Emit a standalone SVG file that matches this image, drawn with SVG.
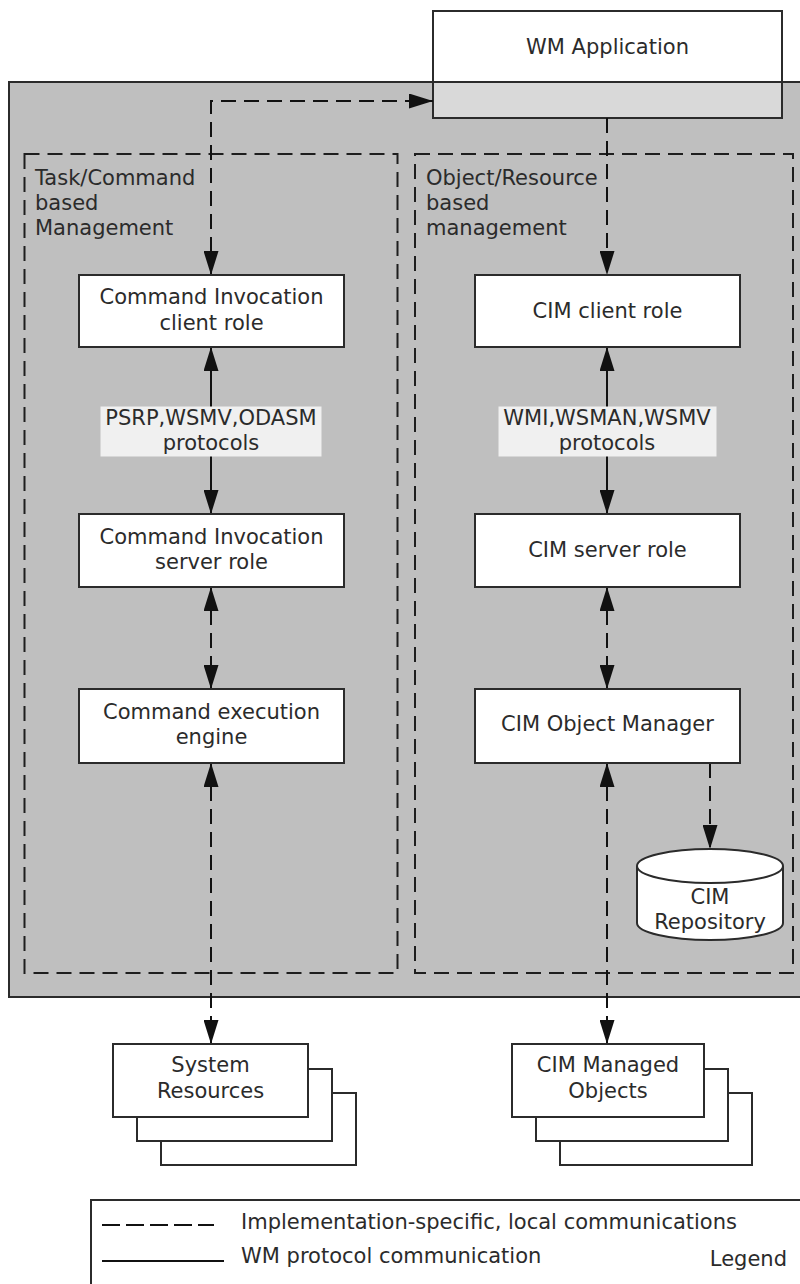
<svg xmlns="http://www.w3.org/2000/svg" width="800" height="1284" viewBox="0 0 800 1284">
<defs>
<marker id="ah" markerUnits="userSpaceOnUse" markerWidth="24" markerHeight="15" refX="24" refY="7.5" orient="auto-start-reverse" viewBox="0 0 24 15">
<path d="M0,0 L24,7.5 L0,15 z" fill="#111"/>
</marker>
<style>
text{font-family:"DejaVu Sans","Verdana",sans-serif;font-size:21px;fill:#2b2b2b}
.c{text-anchor:middle}
.box{fill:#fff;stroke:#2b2b2b;stroke-width:2}
.cont{fill:none;stroke:#1e1e1e;stroke-width:2;stroke-dasharray:15,8}
.dash{fill:none;stroke:#111;stroke-width:2;stroke-dasharray:15,8}
.solid{fill:none;stroke:#111;stroke-width:2}
.lbl{fill:#f0f0f0}
</style>
</defs>
<rect x="9" y="82" width="800" height="915" fill="#bfbfbf" stroke="#2b2b2b" stroke-width="2"/>
<g id="task-container">
<rect class="cont" x="24.5" y="154" width="373" height="819"/>
<text x="35" y="185">Task/Command</text>
<text x="35" y="210">based</text>
<text x="35" y="235">Management</text>
</g>
<g id="object-container">
<rect class="cont" x="415" y="154" width="378" height="819"/>
<text x="426" y="185">Object/Resource</text>
<text x="426" y="210">based</text>
<text x="426" y="235">management</text>
</g>
<g id="wm-application">
<rect x="433" y="11" width="349" height="107" fill="#fff"/>
<rect x="433" y="82" width="349" height="36" fill="#d9d9d9"/>
<line x1="433" y1="82" x2="782" y2="82" stroke="#2b2b2b" stroke-width="2"/>
<rect x="433" y="11" width="349" height="107" fill="none" stroke="#2b2b2b" stroke-width="2"/>
<text class="c" x="607.5" y="54">WM Application</text>
</g>
<g id="connectors">
<path class="dash" d="M211,275 V101 H433" marker-start="url(#ah)" marker-end="url(#ah)"/>
<path class="dash" d="M607,118 V275" marker-end="url(#ah)"/>
<path class="solid" d="M211,347 V514" marker-start="url(#ah)" marker-end="url(#ah)"/>
<path class="solid" d="M607,347 V514" marker-start="url(#ah)" marker-end="url(#ah)"/>
<path class="dash" d="M211,587 V689" marker-start="url(#ah)" marker-end="url(#ah)"/>
<path class="dash" d="M607,587 V689" marker-start="url(#ah)" marker-end="url(#ah)"/>
<path class="dash" d="M211,763 V1044" marker-start="url(#ah)" marker-end="url(#ah)"/>
<path class="dash" d="M607,763 V1044" marker-start="url(#ah)" marker-end="url(#ah)"/>
<path class="dash" d="M710,763 V849" marker-end="url(#ah)"/>
<rect class="lbl" x="100.5" y="406.5" width="221" height="50"/>
<text class="c" x="211" y="425">PSRP,WSMV,ODASM</text>
<text class="c" x="211" y="450">protocols</text>
<rect class="lbl" x="498.5" y="406.5" width="218" height="50"/>
<text class="c" x="607" y="425">WMI,WSMAN,WSMV</text>
<text class="c" x="607" y="450">protocols</text>
</g>
<g id="ci-client">
<rect class="box" x="79" y="275" width="265" height="72"/>
<text class="c" x="211.5" y="304">Command Invocation</text>
<text class="c" x="211.5" y="330">client role</text>
</g>
<g id="cim-client">
<rect class="box" x="475" y="275" width="265" height="72"/>
<text class="c" x="607.5" y="318">CIM client role</text>
</g>
<g id="ci-server">
<rect class="box" x="79" y="514" width="265" height="73"/>
<text class="c" x="211.5" y="544">Command Invocation</text>
<text class="c" x="211.5" y="569">server role</text>
</g>
<g id="cim-server">
<rect class="box" x="475" y="514" width="265" height="73"/>
<text class="c" x="607.5" y="557">CIM server role</text>
</g>
<g id="exec-engine">
<rect class="box" x="79" y="689" width="265" height="74"/>
<text class="c" x="211.5" y="719">Command execution</text>
<text class="c" x="211.5" y="744">engine</text>
</g>
<g id="cim-om">
<rect class="box" x="475" y="689" width="265" height="74"/>
<text class="c" x="607.5" y="731">CIM Object Manager</text>
</g>
<g id="cim-repository">
<path d="M637,866 V923 A73,17 0 0 0 783,923 V866 A73,17 0 0 0 637,866 Z" fill="#fff" stroke="#2b2b2b" stroke-width="2"/>
<path d="M637,866 A73,17 0 0 0 783,866" fill="none" stroke="#2b2b2b" stroke-width="2"/>
<text class="c" x="710" y="904">CIM</text>
<text class="c" x="710" y="929">Repository</text>
</g>
<g id="system-resources">
<rect class="box" x="161" y="1093" width="195" height="72"/>
<rect class="box" x="137" y="1069" width="195" height="72"/>
<rect class="box" x="113" y="1044" width="195" height="73"/>
<text class="c" x="210.5" y="1072">System</text>
<text class="c" x="210.5" y="1098">Resources</text>
</g>
<g id="cim-managed-objects">
<rect class="box" x="560" y="1093" width="192" height="72"/>
<rect class="box" x="536" y="1069" width="192" height="72"/>
<rect class="box" x="512" y="1044" width="192" height="73"/>
<text class="c" x="608" y="1072">CIM Managed</text>
<text class="c" x="608" y="1098">Objects</text>
</g>
<g id="legend">
<rect x="91" y="1200" width="720" height="100" fill="#fff" stroke="#2b2b2b" stroke-width="2"/>
<line x1="102" y1="1225" x2="214" y2="1225" stroke="#111" stroke-width="2" stroke-dasharray="18,6"/>
<line x1="102" y1="1261" x2="224" y2="1261" stroke="#111" stroke-width="2"/>
<text x="241" y="1229">Implementation-specific, local communications</text>
<text x="241" y="1263">WM protocol communication</text>
<text x="787" y="1266" text-anchor="end">Legend</text>
</g>
</svg>
